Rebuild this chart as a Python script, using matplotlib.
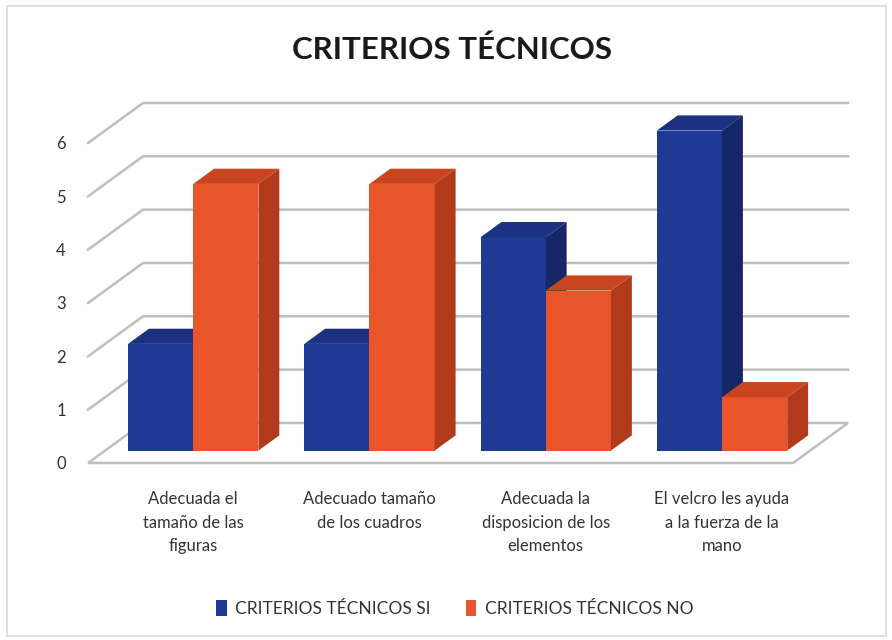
import matplotlib
matplotlib.use("Agg")
import matplotlib.pyplot as plt
from matplotlib.patches import Polygon, Rectangle

# data
categories = ["Adecuada el\ntamaño de las\nfiguras",
              "Adecuado tamaño\nde los cuadros",
              "Adecuada la\ndisposicion de los\nelementos",
              "El velcro les ayuda\na la fuerza de la\nmano"]
si_values = [2, 2, 4, 6]
no_values = [5, 5, 3, 1]
series_names = ["CRITERIOS TÉCNICOS SI", "CRITERIOS TÉCNICOS NO"]

# colours: front, top, side
blue = ("#1F3A94", "#1B3282", "#152766")
orange = ("#E8552A", "#C9451F", "#B03A1A")
grid_col = "#BFBFBF"

plt.rcParams["font.family"] = ["Lato", "DejaVu Sans"]

fig = plt.figure(figsize=(8.92, 6.4), dpi=100)
fig.patches.append(Rectangle((0.008, 0.006), 0.985, 0.984, transform=fig.transFigure,
                             fill=False, edgecolor="#D9D9D9", lw=1.2))
fig.text(0.507, 0.922, "CRITERIOS TÉCNICOS", ha="center", va="center",
         fontsize=22.5, fontweight="bold", color="#1a1a1a")

ax = fig.add_axes([0.0987, 0.2766, 0.7904, 0.5])
n = len(categories)
ax.set_xlim(-0.5, n - 0.5)
ax.set_ylim(0, 6)
for s in ax.spines.values():
    s.set_visible(False)

# pseudo 3d depth: offset of the back wall in data units
DX, DY = 0.312, 0.75
d0, t = 0.31, 0.38   # bar front depth and bar thickness
w = 0.37

x_left, x_right = -0.5, n - 0.5
# floor
ax.add_patch(Polygon([(x_left, 0), (x_right, 0), (x_right + DX, DY), (x_left + DX, DY)],
                     closed=True, facecolor="white", edgecolor=grid_col, lw=1.8,
                     clip_on=False, zorder=1))
# wall grid lines
for v in range(1, 7):
    ax.plot([x_left, x_left + DX, x_right + DX], [v, v + DY, v + DY],
            color=grid_col, lw=1.8, clip_on=False, zorder=1)

def bar3d(x0, v, cols, label):
    y0 = d0 * DY
    ax.bar(x0, v, width=w, bottom=y0, align="edge", color=cols[0],
           label=label, zorder=3, clip_on=False)
    top = [(x0, y0 + v), (x0 + w, y0 + v),
           (x0 + w + t * DX, y0 + v + t * DY), (x0 + t * DX, y0 + v + t * DY)]
    side = [(x0 + w, y0), (x0 + w, y0 + v),
            (x0 + w + t * DX, y0 + v + t * DY), (x0 + w + t * DX, y0 + t * DY)]
    ax.add_patch(Polygon(top, closed=True, facecolor=cols[1], lw=0, zorder=3, clip_on=False))
    ax.add_patch(Polygon(side, closed=True, facecolor=cols[2], lw=0, zorder=3, clip_on=False))

for i in range(n):
    shift = i + d0 * DX
    bar3d(shift - w, si_values[i], blue, series_names[0] if i == 0 else None)
    bar3d(shift, no_values[i], orange, series_names[1] if i == 0 else None)

ax.set_yticks(range(7))
ax.tick_params(axis="y", length=0, pad=16, labelsize=12, labelcolor="#333333")
ax.set_xticks([i + d0 * DX for i in range(n)])
ax.set_xticklabels(categories, fontsize=12, color="#333333", linespacing=1.6)
ax.tick_params(axis="x", length=0, pad=20)

fig.legend(loc="center", bbox_to_anchor=(0.51, 0.049), ncol=2, frameon=False,
           fontsize=12.5, handlelength=0.6, handleheight=1.0, handletextpad=0.5,
           columnspacing=2.0, labelcolor="#333333")

fig.savefig("out.png", dpi=100)
